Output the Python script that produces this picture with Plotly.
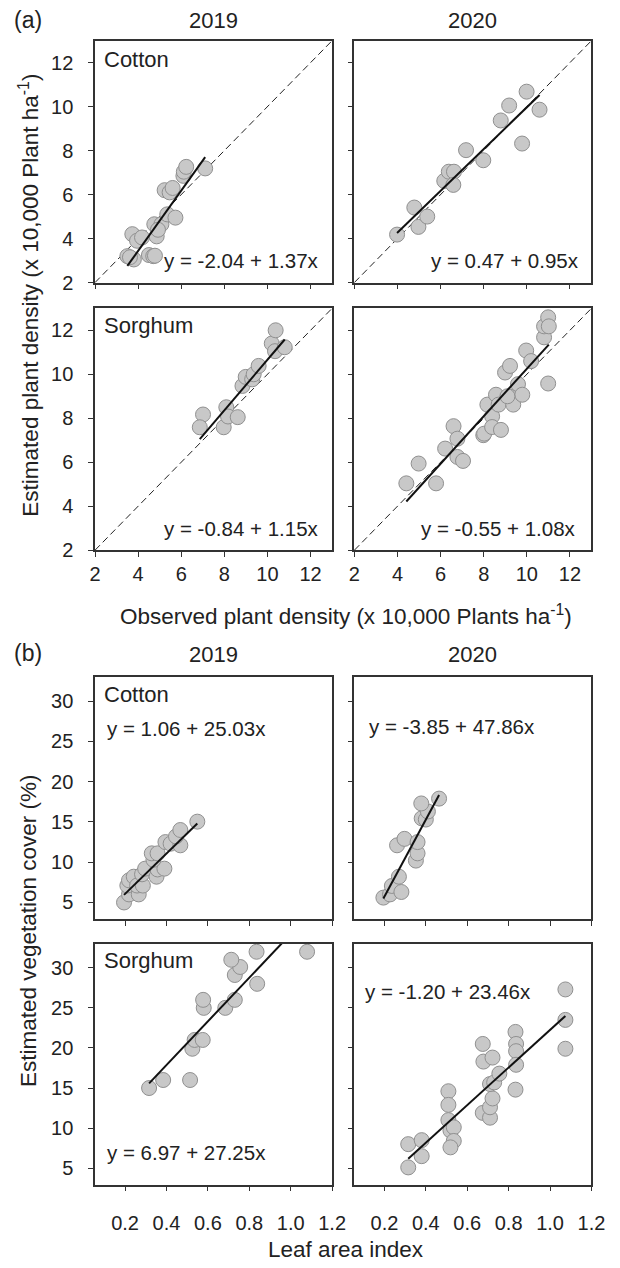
import plotly.graph_objects as go

# ---------------- data ----------------
# (a) plant density: observed (x) vs estimated (y)
cot19_obs = [3.5, 3.8, 3.62, 3.73, 3.95, 4.18, 4.5, 4.7, 4.78, 4.86, 4.75, 5.08, 4.92, 5.35, 5.73, 5.23, 5.46, 5.6, 6.1, 6.12, 6.23, 7.11]
cot19_est = [3.2, 3.05, 3.15, 4.2, 3.9, 4.05, 3.25, 3.2, 3.22, 4.1, 4.65, 4.65, 4.4, 5.1, 4.95, 6.2, 6.1, 6.3, 6.85, 7.04, 7.26, 7.19]
cot20_obs = [3.98, 4.78, 4.97, 5.38, 6.17, 6.38, 6.62, 6.59, 7.18, 7.98, 8.79, 9.18, 9.78, 9.99, 10.59]
cot20_est = [4.18, 5.41, 4.53, 5.0, 6.62, 7.04, 7.04, 6.44, 8.02, 7.56, 9.37, 10.05, 8.32, 10.68, 9.86]
sor19_obs = [7.01, 6.86, 7.97, 8.09, 8.17, 8.62, 8.84, 8.99, 9.29, 9.36, 9.59, 10.2, 10.38, 10.35, 10.8]
sor19_est = [8.17, 7.59, 7.59, 8.5, 8.08, 8.05, 9.47, 9.88, 9.77, 10.0, 10.38, 11.4, 12.0, 11.05, 11.23]
sor20_obs = [4.41, 4.98, 5.79, 6.21, 6.6, 6.78, 6.78, 7.04, 7.98, 8.02, 8.17, 8.39, 8.39, 8.57, 8.69, 8.8, 8.99, 9.22, 9.22, 9.37, 9.59, 9.79, 9.97, 10.2, 10.8, 10.8, 10.99, 11.02, 10.99, 9.1]
sor20_est = [5.04, 5.94, 5.04, 6.62, 7.64, 7.07, 6.24, 6.06, 7.23, 7.3, 8.62, 8.09, 7.6, 9.07, 8.62, 7.47, 10.08, 10.38, 8.99, 8.62, 9.55, 9.07, 11.08, 10.6, 11.68, 12.18, 12.59, 12.18, 9.58, 9.0]

# (b) vegetation cover: leaf area index (x) vs estimated cover % (y)
cot19_lai = [0.195, 0.219, 0.266, 0.211, 0.219, 0.242, 0.258, 0.286, 0.282, 0.297, 0.352, 0.357, 0.39, 0.337, 0.329, 0.357, 0.395, 0.42, 0.467, 0.446, 0.467, 0.549]
cot19_cov = [5.0, 6.0, 6.0, 7.1, 7.75, 8.2, 7.1, 7.1, 8.5, 9.2, 8.2, 9.1, 9.2, 10.3, 11.1, 11.1, 12.5, 12.3, 12.1, 13.2, 14.0, 15.04]
cot20_lai = [0.195, 0.227, 0.236, 0.282, 0.27, 0.261, 0.297, 0.352, 0.36, 0.36, 0.38, 0.4, 0.41, 0.378, 0.464]
cot20_cov = [5.6, 6.0, 7.05, 6.3, 8.2, 12.1, 12.9, 10.2, 11.1, 12.5, 15.45, 15.3, 16.3, 17.3, 17.9]
sor19_lai = [0.316, 0.384, 0.514, 0.525, 0.536, 0.575, 0.58, 0.577, 0.684, 0.73, 0.73, 0.756, 0.713, 0.838, 0.835, 1.079]
sor19_cov = [15.0, 16.0, 16.0, 19.9, 21.0, 21.0, 25.0, 26.0, 25.0, 26.0, 29.1, 30.1, 31.0, 28.0, 32.0, 32.0]
sor20_lai = [0.315, 0.315, 0.38, 0.38, 0.509, 0.509, 0.509, 0.519, 0.535, 0.535, 0.519, 0.675, 0.678, 0.722, 0.675, 0.71, 0.71, 0.722, 0.71, 0.73, 0.755, 0.833, 0.836, 0.836, 0.836, 0.833, 1.074, 1.074, 1.074]
sor20_cov = [5.1, 8.0, 8.5, 6.5, 14.6, 12.9, 11.0, 9.7, 10.1, 8.4, 7.6, 20.5, 18.3, 18.8, 11.9, 11.3, 12.6, 13.7, 15.5, 15.7, 16.8, 22.0, 20.5, 19.6, 17.9, 14.8, 27.3, 23.5, 19.9]

# regression coefficients (intercept, slope) as printed
coef = {
    1: (-2.04, 1.37), 2: (0.47, 0.95), 3: (-0.84, 1.15), 4: (-0.55, 1.08),
    5: (1.06, 25.03), 6: (-3.85, 47.86), 7: (6.97, 27.25), 8: (-1.20, 23.46),
}
eq_text = {
    1: "y = -2.04 + 1.37x", 2: "y = 0.47 + 0.95x", 3: "y = -0.84 + 1.15x", 4: "y = -0.55 + 1.08x",
    5: "y = 1.06 + 25.03x", 6: "y = -3.85 + 47.86x", 7: "y = 6.97 + 27.25x", 8: "y = -1.20 + 23.46x",
}
panels = {
    1: (cot19_obs, cot19_est), 2: (cot20_obs, cot20_est), 3: (sor19_obs, sor19_est), 4: (sor20_obs, sor20_est),
    5: (cot19_lai, cot19_cov), 6: (cot20_lai, cot20_cov), 7: (sor19_lai, sor19_cov), 8: (sor20_lai, sor20_cov),
}

density_ticks = [2, 4, 6, 8, 10, 12]
lai_ticks = [0.2, 0.4, 0.6, 0.8, 1.0, 1.2]
lai_ticktext = ["0.2", "0.4", "0.6", "0.8", "1.0", "1.2"]
cover_ticks = [5, 10, 15, 20, 25, 30]

# ---------------- layout geometry ----------------
W, H = 620, 1268
def px_y(top, bottom):
    return [1 - bottom / H, 1 - top / H]
xdom_left = [92 / W, 337 / W]
xdom_right = [360 / W, 605 / W]
ydoms = {
    1: px_y(41, 285), 2: px_y(41, 285), 3: px_y(311, 555), 4: px_y(311, 555),
    5: px_y(683, 927), 6: px_y(683, 927), 7: px_y(952, 1195), 8: px_y(952, 1195),
}

FONT = "Liberation Sans, Arial, sans-serif"
TXT = "#222222"
AX = "#333333"
FS_TICK = 20
FS_EQ = 20.5
FS_LAB = 22
FS_TITLE = 22.5

fig = go.Figure()

for i in range(1, 9):
    xs, ys = panels[i]
    xa = "x" if i == 1 else f"x{i}"
    ya = "y" if i == 1 else f"y{i}"
    fig.add_trace(go.Scatter(
        x=xs, y=ys, mode="markers", xaxis=xa, yaxis=ya, showlegend=False,
        marker=dict(size=15, color="#c8c8c8", line=dict(color="#909090", width=1)),
        cliponaxis=False,
    ))
    b0, b1 = coef[i]
    lx = [min(xs), max(xs)]
    ly = [b0 + b1 * v for v in lx]
    fig.add_trace(go.Scatter(
        x=lx, y=ly, mode="lines", xaxis=xa, yaxis=ya, showlegend=False,
        line=dict(color="#111111", width=2),
    ))

axis_common = dict(
    showline=True, linecolor=AX, linewidth=1.5, mirror=True,
    ticks="outside", ticklen=5, tickwidth=1.2, tickcolor=AX,
    showgrid=False, zeroline=False,
    tickfont=dict(family=FONT, size=FS_TICK, color=TXT),
)

for i in range(1, 9):
    left = i % 2 == 1
    bottom_row = i in (3, 4, 7, 8)
    xkey = "xaxis" if i == 1 else f"xaxis{i}"
    ykey = "yaxis" if i == 1 else f"yaxis{i}"
    ya = "y" if i == 1 else f"y{i}"
    xa = "x" if i == 1 else f"x{i}"
    if i <= 4:
        xr, yr = [2, 13], [2, 13]
        xt, xtt = density_ticks, [str(t) for t in density_ticks]
        yt, ytt = density_ticks, [str(t) for t in density_ticks]
        xstand = 0
    else:
        xr, yr = [0.055, 1.2], [2.95, 33]
        xt, xtt = lai_ticks, lai_ticktext
        yt, ytt = cover_ticks, [str(t) for t in cover_ticks]
        xstand = 15
    fig.layout[xkey] = dict(
        axis_common, domain=xdom_left if left else xdom_right, anchor=ya, range=xr,
        tickvals=xt, ticktext=xtt, showticklabels=bottom_row, ticklabelstandoff=xstand,
    )
    fig.layout[ykey] = dict(
        axis_common, domain=ydoms[i], anchor=xa, range=yr,
        tickvals=yt, ticktext=ytt, showticklabels=left, ticklabelstandoff=11,
    )

shapes = []
for i in range(1, 5):
    xa = "x" if i == 1 else f"x{i}"
    ya = "y" if i == 1 else f"y{i}"
    shapes.append(dict(type="line", xref=f"{xa} domain", yref=f"{ya} domain",
                       x0=0, y0=0, x1=1, y1=1, layer="below",
                       line=dict(color="#222222", width=1, dash="7px,4px")))
fig.update_layout(shapes=shapes)

ann = []
def a(text, x, y, xref="paper", yref="paper", xanchor="center", yanchor="middle", size=FS_LAB, angle=0, yshift=0):
    ann.append(dict(text=text, x=x, y=y, xref=xref, yref=yref, xanchor=xanchor, yanchor=yanchor,
                    showarrow=False, textangle=angle, yshift=yshift,
                    font=dict(family=FONT, size=size, color=TXT)))

def dref(i):
    xa = "x" if i == 1 else f"x{i}"
    ya = "y" if i == 1 else f"y{i}"
    return f"{xa} domain", f"{ya} domain"

# crop labels
for i, lab, yy in [(1, "Cotton", 0.922), (3, "Sorghum", 0.93), (5, "Cotton", 0.93), (7, "Sorghum", 0.93)]:
    xr_, yr_ = dref(i)
    a(lab, 0.03, yy, xr_, yr_, xanchor="left")

# equations
eq_pos = {
    1: (0.955, 0.09, "right"), 2: (0.957, 0.09, "right"), 3: (0.955, 0.09, "right"), 4: (0.945, 0.09, "right"),
    5: (0.04, 0.787, "left"), 6: (0.053, 0.795, "left"), 7: (0.04, 0.132, "left"), 8: (0.035, 0.80, "left"),
}
for i, (ex, ey, anc) in eq_pos.items():
    xr_, yr_ = dref(i)
    a(eq_text[i], ex, ey, xr_, yr_, xanchor=anc, size=FS_EQ)

# panel letters and year headers
a("(a)", 6 / W, 1 - 20 / H, xanchor="left", size=23)
a("(b)", 6 / W, 1 - 659 / H, xanchor="left", size=23)
for yy in (21, 660):
    a("2019", (92 + 337) / 2 / W, 1 - yy / H)
    a("2020", (360 + 605) / 2 / W, 1 - yy / H)

# axis titles
a("Observed plant density (x 10,000 Plants ha<sup>-1</sup>)", 351 / W, 1 - 620 / H, size=FS_TITLE)
a("Leaf area index", 351 / W, 0, yanchor="bottom", size=FS_TITLE, yshift=-7)
a("Estimated plant density (x 10,000 Plant ha<sup>-1</sup>)", 24 / W, 1 - 298 / H, angle=-90, size=FS_TITLE)
a("Estimated vegetation cover (%)", 24 / W, 1 - 939 / H, angle=-90, size=FS_TITLE)

fig.update_layout(
    annotations=ann,
    width=W, height=H, autosize=False,
    margin=dict(l=0, r=0, t=0, b=0),
    paper_bgcolor="white", plot_bgcolor="white",
    showlegend=False,
)

fig.write_html("out.html")
